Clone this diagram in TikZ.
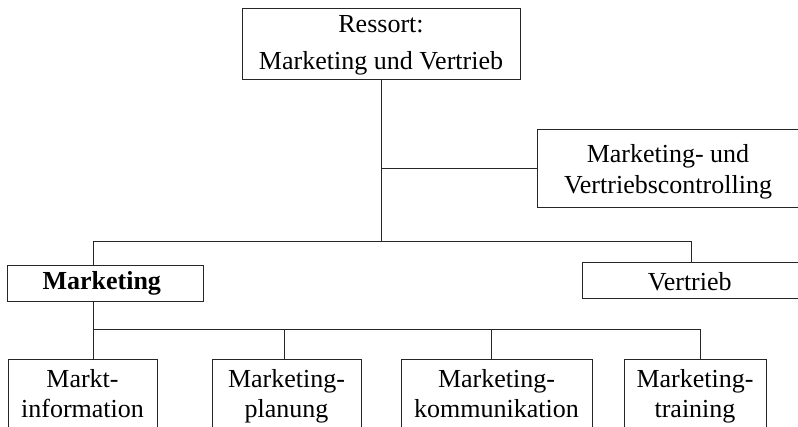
\documentclass[tikz,border=0pt]{standalone}
\usepackage{fontspec}
\setmainfont{Liberation Serif}
\usepackage{tikz}
\usetikzlibrary{positioning}

\begin{document}
\begin{tikzpicture}[x = 1pt, y = -1pt,
  unit/.style = {draw = black!85, line width = 0.8pt, inner sep = 0pt,
    align = center, font = \fontsize{26}{31}\selectfont},
  link/.style = {draw = black!85, line width = 0.8pt}]
  \useasboundingbox (0, 0) rectangle (798, 427);

  \node[unit, minimum width = 278, text height = 62, text depth = 9] (ressort) at (381, 43.5){
    Ressort:\\[6pt]Marketing und Vertrieb
  };

  \node[unit, minimum width = 262, text height = 65, text depth = 13] (ctrl) at (668, 168){
    Marketing- und\\Vertriebscontrolling
  };

  \node[unit, minimum width = 196, text height = 25, text depth = 11] (mkt) at (105, 283){
    \textbf{Marketing}
  };

  \node[unit, minimum width = 222, text height = 29, text depth = 7] (vtr) at (693, 280){
    Vertrieb
  };

  \node[unit, minimum width = 149, text height = 59, text depth = 17] (info) at (82.5, 397){
    Markt-\\information
  };

  \node[unit, minimum width = 149, text height = 59, text depth = 17] (plan) at (286.5, 397){
    Marketing-\\planung
  };

  \node[unit, minimum width = 191, text height = 59, text depth = 17] (komm) at (496.5, 397){
    Marketing-\\kommunikation
  };

  \node[unit, minimum width = 142, text height = 59, text depth = 17] (train) at (695, 397){
    Marketing-\\training
  };

  \coordinate (ctrlJ) at (381, 168);
  \coordinate (busA) at (93, 241);
  \coordinate (busB) at (691, 241);
  \coordinate (busC) at (93, 329);
  \coordinate (busD) at (700, 329);
  \coordinate (plnJ) at (284, 329);
  \coordinate (komJ) at (491, 329);

  \draw[link] (ressort.south) -- (ressort.south |- busA);
  \draw[link] (ctrlJ) -- (ctrl.west);
  \draw[link] (busA) -- (busB);
  \draw[link] (busA) -- (busA |- mkt.north);
  \draw[link] (busB) -- (busB |- vtr.north);

  \draw[link] (busC |- mkt.south) -- (busC);
  \draw[link] (busC) -- (busD);
  \draw[link] (busC) -- (busC |- info.north);
  \draw[link] (plnJ) -- (plnJ |- plan.north);
  \draw[link] (komJ) -- (komJ |- komm.north);
  \draw[link] (busD) -- (busD |- train.north);
\end{tikzpicture}
\end{document}
